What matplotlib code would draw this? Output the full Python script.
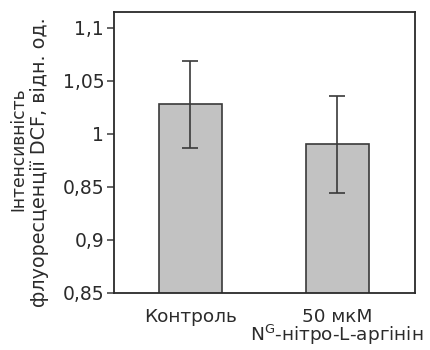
import matplotlib.pyplot as plt

plt.rcParams['font.family'] = ['DejaVu Sans']
plt.rcParams['mathtext.fontset'] = 'dejavusans'

groups = ["Контроль", "50 мкМ\nN$^{\\mathrm{G}}$-нітро-L-аргінін"]
means = [1.028, 0.990]
errors = [0.041, 0.046]

y_ticks = [0.85, 0.90, 0.95, 1.00, 1.05, 1.10]
y_labels = ["0,85", "0,9", "0,85", "1", "1,05", "1,1"]

text_color = "#2b2b2b"

fig = plt.figure(figsize=(4.3, 3.5), dpi=100)
ax = fig.add_axes([0.265, 0.163, 0.700, 0.803])

x = range(len(groups))
ax.bar(x, means, width=0.43, color="#c2c2c2", edgecolor="#3a3a3a", linewidth=1.2,
       yerr=errors, capsize=5.5,
       error_kw=dict(ecolor="#3a3a3a", elinewidth=1.2, capthick=1.2))

ax.set_xlim(-0.52, 1.53)
ax.set_ylim(0.85, 1.115)
ax.set_xticks(list(x))
ax.set_xticklabels(groups, fontsize=13.3, color=text_color, linespacing=0.8)
ax.tick_params(axis="x", length=0, pad=11)
ax.set_yticks(y_ticks)
ax.set_yticklabels(y_labels, fontsize=13.5, color=text_color)
ax.tick_params(axis="y", length=5, width=1.1, color="#3a3a3a", pad=2)

for spine in ax.spines.values():
    spine.set_color("#2a2a2a")
    spine.set_linewidth(1.3)

# two-line axis title, each line placed on its own
fig.text(18 / 430, 1 - 149 / 350, "Інтенсивність", rotation=90, fontsize=12.3,
         color=text_color, ha="center", va="center")
fig.text(40 / 430, 1 - 162 / 350, "флуоресценції DCF, відн. од.", rotation=90,
         fontsize=13.8, color=text_color, ha="center", va="center")

fig.savefig("out.png", dpi=100)
